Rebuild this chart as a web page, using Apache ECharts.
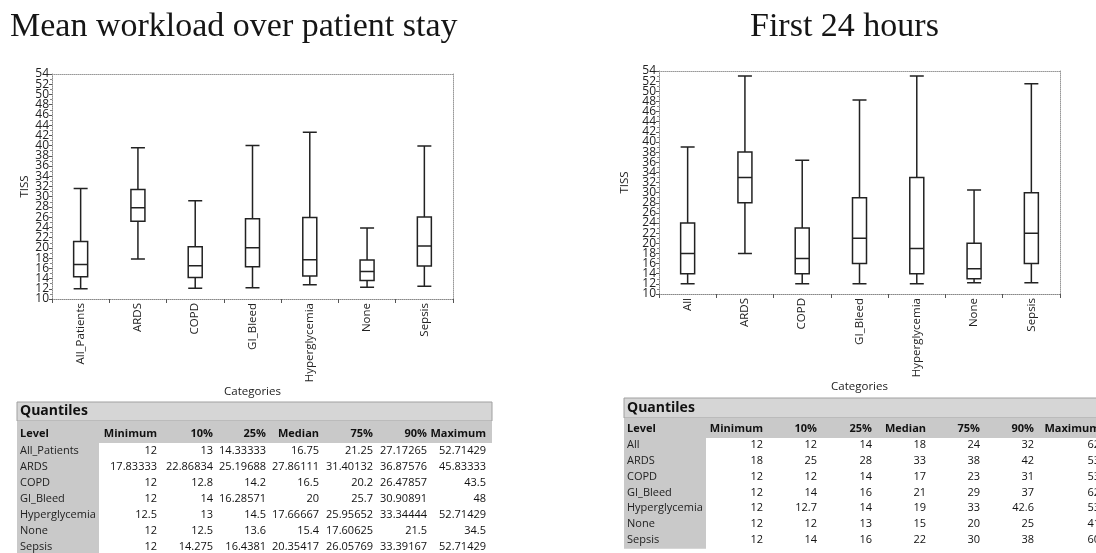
<!DOCTYPE html>
<html>
<head>
<meta charset="utf-8">
<script src="https://cdn.jsdelivr.net/npm/echarts@6/dist/echarts.min.js"></script>
<style>
html,body{margin:0;padding:0;background:#fff;}
#chart{width:1096px;height:553px;}
</style>
</head>
<body>
<div id="chart"></div>
<script>
// ---------- data ----------
const categoriesStay = ['All_Patients','ARDS','COPD','GI_Bleed','Hyperglycemia','None','Sepsis'];
const categoriesDay = ['All','ARDS','COPD','GI_Bleed','Hyperglycemia','None','Sepsis'];
const yTicksA = [10,14,18,22,26,30,34,38,42,46,50,54];
const yTicksB = [12,16,20,24,28,32,36,40,44,48,52];
const tableHeaders = ['Level','Minimum','10%','25%','Median','75%','90%','Maximum'];

// Mean workload over patient stay – quantiles table
const stayMin    = [12, 17.83333, 12, 12, 12.5, 12, 12];
const stayP10    = [13, 22.86834, 12.8, 14, 13, 12.5, 14.275];
const stayP25    = [14.33333, 25.19688, 14.2, 16.28571, 14.5, 13.6, 16.4381];
const stayMedian = [16.75, 27.86111, 16.5, 20, 17.66667, 15.4, 20.35417];
const stayP75    = [21.25, 31.40132, 20.2, 25.7, 25.95652, 17.60625, 26.05769];
const stayP90    = [27.17265, 36.87576, 26.47857, 30.90891, 33.34444, 21.5, 33.39167];
const stayMax    = [52.71429, 45.83333, 43.5, 48, 52.71429, 34.5, 52.71429];
// whisker ends as drawn in the box plot
const stayWhiskerLow  = [12, 17.83, 12.1, 12.2, 12.8, 12.3, 12.5];
const stayWhiskerHigh = [31.6, 39.6, 29.2, 40, 42.6, 23.9, 39.9];

// First 24 hours – quantiles table
const dayMin    = [12, 18, 12, 12, 12, 12, 12];
const dayP10    = [12, 25, 12, 14, 12.7, 12, 14];
const dayP25    = [14, 28, 14, 16, 14, 13, 16];
const dayMedian = [18, 33, 17, 21, 19, 15, 22];
const dayP75    = [24, 38, 23, 29, 33, 20, 30];
const dayP90    = [32, 42, 31, 37, 42.6, 25, 38];
const dayMax    = [62, 53, 53, 62, 53, 41, 60];
const dayWhiskerLow  = [12, 18, 12, 12, 12, 12.2, 12.2];
const dayWhiskerHigh = [39, 53, 36.4, 48.3, 53, 30.5, 51.5];

// ---------- helpers ----------
const SANS = '"Open Sans", "Noto Sans", sans-serif';
const SERIF = '"Liberation Serif", "DejaVu Serif", serif';
const Y_MIN = 10, Y_MAX = 54;

function boxData(lo, q1, med, q3, hi) {
  return lo.map((v, i) => [lo[i], q1[i], med[i], q3[i], hi[i]]);
}

function rect(x, y, w, h, fill, stroke) {
  return {type:'rect', silent:true, shape:{x:x, y:y, width:w, height:h},
          style:{fill:fill, stroke:stroke || null, lineWidth: stroke ? 1 : 0}};
}
function txt(s, x, y, align, font, color) {
  return {type:'text', silent:true, x:x, y:y,
          style:{text:String(s), align:align, verticalAlign:'middle', font:font, fill:color || '#222'}};
}

function buildTable(L, levels, columns) {
  const els = [];
  const n = levels.length;
  const bottom = L.rowY + L.rowStep * (n - 1) + L.rowStep / 2 + 1;
  els.push(rect(L.x, L.barTop, L.right - L.x, L.barBottom - L.barTop, '#d6d6d6', '#a0a0a0'));
  els.push(rect(L.x, L.barBottom, L.right - L.x, L.headBottom - L.barBottom, '#c9c9c9'));
  els.push(rect(L.x, L.headBottom, L.levelRight - L.x, bottom - L.headBottom, '#c9c9c9'));
  els.push(rect(L.levelRight, L.headBottom, L.right - L.levelRight, bottom - L.headBottom, '#ffffff'));
  els.push(txt('Quantiles', L.x + 3, (L.barTop + L.barBottom) / 2, 'left', 'bold 14px ' + SANS, '#111'));
  els.push(txt(tableHeaders[0], L.x + 3, L.headY, 'left', 'bold 11px ' + SANS, '#111'));
  for (let j = 1; j < tableHeaders.length; j++) {
    els.push(txt(tableHeaders[j], L.colRight[j - 1], L.headY, 'right', 'bold 11px ' + SANS, '#111'));
  }
  for (let i = 0; i < n; i++) {
    const y = L.rowY + L.rowStep * i;
    els.push(txt(levels[i], L.x + 3, y, 'left', '11px ' + SANS, '#222'));
    for (let j = 0; j < columns.length; j++) {
      els.push(txt(columns[j][i], L.colRight[j], y, 'right', '11px ' + SANS, '#111'));
    }
  }
  return els;
}

const leftTable = {x:17, right:492, barTop:402, barBottom:421, headBottom:443, headY:434,
  levelRight:99, rowY:451, rowStep:15.9, colRight:[157,213,266,319,373,427,486]};
const rightTable = {x:624, right:1110, barTop:398, barBottom:418, headBottom:438, headY:429,
  levelRight:706, rowY:445, rowStep:15.8, colRight:[763,817,872,926,980,1034,1100]};

function bottomX(grid, cats) {
  return {type:'category', gridIndex:grid, data:cats, position:'bottom', boundaryGap:true,
    axisLine:{show:true, lineStyle:{color:'#888', type:'dotted', width:1}},
    axisTick:{show:true, length:4, lineStyle:{color:'#555'}},
    axisLabel:{rotate:90, interval:0, fontSize:11.5, color:'#222', fontFamily:SANS, margin:4},
    name:'Categories', nameLocation:'middle', nameGap:81,
    nameTextStyle:{fontSize:11.5, color:'#222', fontFamily:SANS}};
}
function topX(grid, cats) {
  return {type:'category', gridIndex:grid, data:cats, position:'top',
    axisLine:{show:true, lineStyle:{color:'#999', type:'dotted', width:1}},
    axisTick:{show:false}, axisLabel:{show:false}};
}
const yLabelStyle = {fontSize:12, color:'#222', fontFamily:SANS, margin:3, hideOverlap:false};
function leftY(grid, gap) {
  return {type:'value', gridIndex:grid, min:Y_MIN, max:Y_MAX, interval:2,
    position:'left',
    axisLine:{show:true, lineStyle:{color:'#888', type:'dotted', width:1}},
    axisTick:{show:true, length:3, lineStyle:{color:'#555'}},
    minorTick:{show:true, splitNumber:2, length:2, lineStyle:{color:'#888'}},
    splitLine:{show:false},
    axisLabel:Object.assign({customValues:yTicksA, showMinLabel:true, showMaxLabel:true}, yLabelStyle),
    name:'TISS', nameLocation:'middle', nameGap:gap,
    nameTextStyle:{fontSize:11.5, color:'#222', fontFamily:SANS}};
}
function leftYExtra(grid) {
  return {type:'value', gridIndex:grid, min:Y_MIN, max:Y_MAX, interval:2,
    position:'left',
    axisLine:{show:false}, axisTick:{show:false}, splitLine:{show:false},
    axisLabel:Object.assign({customValues:yTicksB}, yLabelStyle)};
}
function rightY(grid) {
  return {type:'value', gridIndex:grid, min:Y_MIN, max:Y_MAX, interval:2,
    position:'right',
    axisLine:{show:true, lineStyle:{color:'#999', type:'dotted', width:1}},
    axisTick:{show:false}, axisLabel:{show:false}, splitLine:{show:false}};
}

const boxStyle = {color:'#ffffff', borderColor:'#222', borderWidth:1.5};

const option = {
  animation:false,
  backgroundColor:'#ffffff',
  title:[
    {text:'Mean workload over patient stay', left:10, top:10, padding:0,
     textStyle:{fontFamily:SERIF, fontSize:34, fontWeight:'normal', color:'#151515'}},
    {text:'First 24 hours', left:750, top:10, padding:0,
     textStyle:{fontFamily:SERIF, fontSize:34, fontWeight:'normal', color:'#151515'}}
  ],
  grid:[
    {left:52, top:74, width:401, height:225},
    {left:659, top:71, width:401, height:223}
  ],
  xAxis:[bottomX(0, categoriesStay), bottomX(1, categoriesDay), topX(0, categoriesStay), topX(1, categoriesDay)],
  yAxis:[leftY(0, 21), leftY(1, 28), rightY(0), rightY(1), leftYExtra(0), leftYExtra(1)],
  series:[
    {type:'boxplot', xAxisIndex:0, yAxisIndex:0, boxWidth:[14,14], silent:true,
     itemStyle:boxStyle,
     data:boxData(stayWhiskerLow, stayP25, stayMedian, stayP75, stayWhiskerHigh)},
    {type:'boxplot', xAxisIndex:1, yAxisIndex:1, boxWidth:[14,14], silent:true,
     itemStyle:boxStyle,
     data:boxData(dayWhiskerLow, dayP25, dayMedian, dayP75, dayWhiskerHigh)}
  ],
  graphic:[].concat(
    buildTable(leftTable, categoriesStay, [stayMin, stayP10, stayP25, stayMedian, stayP75, stayP90, stayMax]),
    buildTable(rightTable, categoriesDay, [dayMin, dayP10, dayP25, dayMedian, dayP75, dayP90, dayMax])
  )
};

const chart = echarts.init(document.getElementById('chart'), null, {renderer:'canvas'});
chart.setOption(option);
</script>
</body>
</html>
